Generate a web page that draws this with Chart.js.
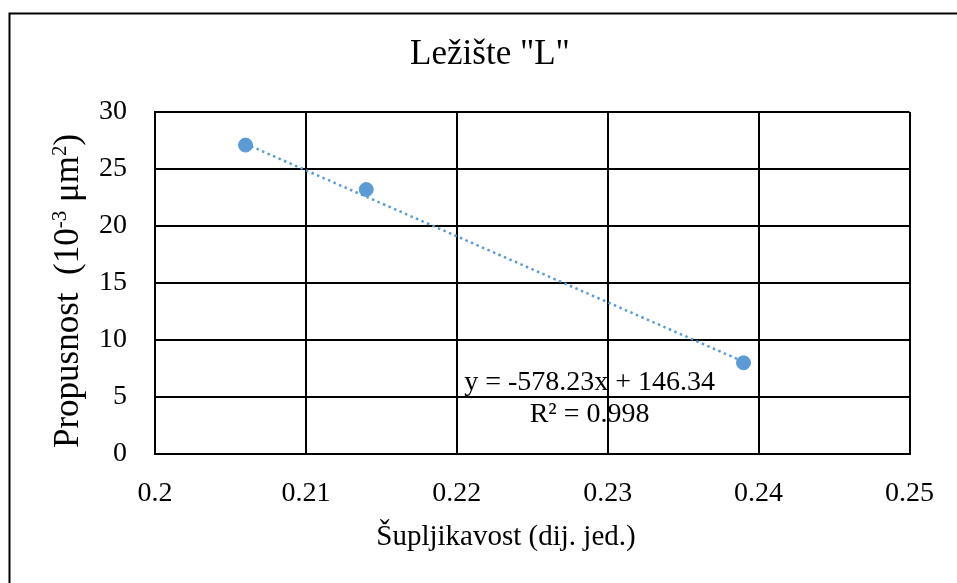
<!DOCTYPE html>
<html>
<head>
<meta charset="utf-8">
<title>Ležište "L"</title>
<script src="https://cdn.jsdelivr.net/npm/chart.js@4.4.1/dist/chart.umd.min.js"></script>
<style>
  html, body { margin: 0; padding: 0; background: #fff; }
  #wrap { width: 957px; height: 583px; }
</style>
</head>
<body>
<div id="wrap"><canvas id="poroChart" width="957" height="583"></canvas></div>
<script>
// Data
const porosity = [0.206, 0.214, 0.239];
const permeability = [27.1, 23.2, 8.0];

// dotted trend line, ends
const trendX = [0.206, 0.239];
const trendY = [27.2, 8.1];

const xTickLabels = ["0.2", "0.21", "0.22", "0.23", "0.24", "0.25"];
const yTickLabels = ["0", "5", "10", "15", "20", "25", "30"];

const eqLine1 = "y = -578.23x + 146.34";
const eqLine2 = "R² = 0.998";

const FONT = "'Liberation Serif', 'Times New Roman', serif";
const BLUE = "#5B9BD5";

// Axis titles + equation + the frame around the picture
const extrasPlugin = {
  id: "extras",
  afterDraw(chart) {
    const ctx = chart.ctx;
    const area = chart.chartArea;
    const xs = chart.scales.x;
    const ys = chart.scales.y;
    ctx.save();
    ctx.fillStyle = "#000";

    // x axis title
    ctx.font = "29px " + FONT;
    ctx.textAlign = "center";
    ctx.textBaseline = "alphabetic";
    ctx.fillText("Šupljikavost (dij. jed.)", 506, 545);

    // y axis title with superscripts
    const parts = [
      { t: "Propusnost  (10", sup: false },
      { t: "-3", sup: true },
      { t: " μm", sup: false },
      { t: "2", sup: true },
      { t: ")", sup: false },
    ];
    const mainFont = "35px " + FONT;
    const supFont = "21px " + FONT;
    let total = 0;
    parts.forEach((p) => {
      ctx.font = p.sup ? supFont : mainFont;
      p.w = ctx.measureText(p.t).width;
      total += p.w;
    });
    ctx.translate(78, (area.top + area.bottom) / 2 + 4);
    ctx.rotate(-Math.PI / 2);
    ctx.textAlign = "left";
    let cx = -total / 2 - 4;
    parts.forEach((p) => {
      ctx.font = p.sup ? supFont : mainFont;
      ctx.fillText(p.t, cx, p.sup ? -12 : 0);
      cx += p.w;
    });
    ctx.setTransform(1, 0, 0, 1, 0, 0);

    // trendline equation
    ctx.font = "28px " + FONT;
    ctx.textAlign = "center";
    ctx.fillText(eqLine1, xs.getPixelForValue(0.2288), ys.getPixelForValue(5.6));
    ctx.fillText(eqLine2, xs.getPixelForValue(0.2288), ys.getPixelForValue(2.8));

    // outer frame (only left and top show in the picture)
    ctx.strokeStyle = "#000";
    ctx.lineWidth = 2;
    ctx.beginPath();
    ctx.moveTo(9.5, chart.height);
    ctx.lineTo(9.5, 13.5);
    ctx.lineTo(chart.width, 13.5);
    ctx.stroke();
    ctx.restore();
  },
};

const ctx = document.getElementById("poroChart").getContext("2d");
new Chart(ctx, {
  type: "scatter",
  data: {
    datasets: [
      {
        label: "Propusnost",
        data: porosity.map((x, i) => ({ x: x, y: permeability[i] })),
        backgroundColor: BLUE,
        borderColor: BLUE,
        pointRadius: 7,
        pointHoverRadius: 7,
        showLine: false,
      },
      {
        label: "Linear",
        data: trendX.map((x, i) => ({ x: x, y: trendY[i] })),
        borderColor: BLUE,
        borderWidth: 2.5,
        borderDash: [2.5, 3.5],
        pointRadius: 0,
        showLine: true,
        fill: false,
      },
    ],
  },
  options: {
    responsive: false,
    animation: false,
    layout: { padding: { left: 67, right: 44, top: 0, bottom: 0 } },
    plugins: {
      legend: { display: false },
      tooltip: { enabled: false },
      title: {
        display: true,
        text: 'Ležište "L"',
        color: "#000",
        font: { family: FONT, size: 35, weight: "normal" },
        padding: { top: 34, bottom: 36 },
      },
    },
    scales: {
      x: {
        type: "linear",
        min: 0.2,
        max: 0.25,
        afterFit: (scale) => { scale.height = 129; },
        ticks: {
          stepSize: 0.01,
          padding: 23,
          color: "#000",
          font: { family: FONT, size: 28 },
          callback: (v, i) => xTickLabels[i],
        },
        grid: { color: "#000", lineWidth: 2, drawTicks: false },
        border: { color: "#000", width: 2 },
      },
      y: {
        min: 0,
        max: 30,
        afterFit: (scale) => { scale.width = 88; },
        ticks: {
          stepSize: 5,
          padding: 28,
          color: "#000",
          font: { family: FONT, size: 28 },
          callback: (v, i) => yTickLabels[i],
        },
        grid: { color: "#000", lineWidth: 2, drawTicks: false },
        border: { color: "#000", width: 2 },
      },
    },
  },
  plugins: [extrasPlugin],
});
</script>
</body>
</html>
